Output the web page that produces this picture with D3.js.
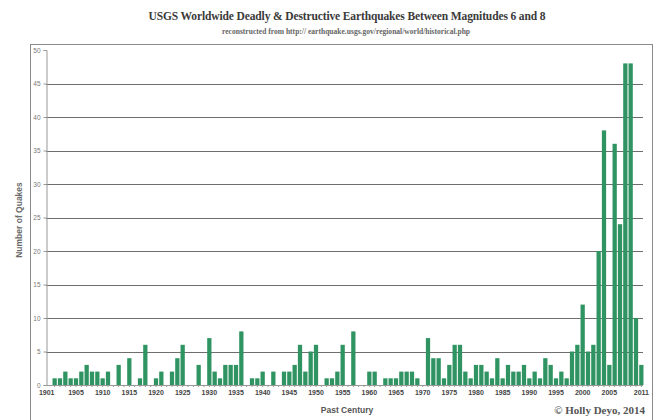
<!DOCTYPE html>
<html>
<head>
<meta charset="utf-8">
<script src="https://cdn.jsdelivr.net/npm/d3@7"></script>
<style>
  body { margin: 0; background: #fff; }
  svg { display: block; }
</style>
</head>
<body>
<svg width="659" height="420"></svg>
<script>
// years 1901..2011 and the number of deadly quakes in each
var years = d3.range(1901, 2012);
var quakes = [
  1, 1, 2, 1, 1, 2, 3, 2, 2, 1,   // 1901-1910
  2, 0, 3, 0, 4, 0, 1, 6, 0, 1,   // 1911-1920
  2, 0, 2, 4, 6, 0, 0, 3, 0, 7,   // 1921-1930
  2, 1, 3, 3, 3, 8, 0, 1, 1, 2,   // 1931-1940
  0, 2, 0, 2, 2, 3, 6, 2, 5, 6,   // 1941-1950
  0, 1, 1, 2, 6, 0, 8, 0, 0, 2,   // 1951-1960
  2, 0, 1, 1, 1, 2, 2, 2, 1, 0,   // 1961-1970
  7, 4, 4, 1, 3, 6, 6, 2, 1, 3,   // 1971-1980
  3, 2, 1, 4, 1, 3, 2, 2, 3, 1,   // 1981-1990
  2, 1, 4, 3, 1, 2, 1, 5, 6, 12,  // 1991-2000
  5, 6, 20, 38, 3, 36, 24, 48, 48, 10, // 2001-2010
  3                               // 2011
];
var yearLabels = [1901, 1905, 1910, 1915, 1920, 1925, 1930, 1935, 1940, 1945, 1950,
  1955, 1960, 1965, 1970, 1975, 1980, 1985, 1990, 1995, 2000, 2005, 2011];
var yTicks = [0, 5, 10, 15, 20, 25, 30, 35, 40, 45, 50];

var svg = d3.select("svg");

var x = d3.scaleBand().domain(years).range([52, 644]).paddingInner(0.2).paddingOuter(0.1);
var y = d3.scaleLinear().domain([0, 50]).range([385, 50]);

// frame
svg.append("rect")
  .attr("x", 30.5).attr("y", 44.5)
  .attr("width", 622).attr("height", 400)
  .attr("fill", "none")
  .attr("stroke", "#8a8a8a")
  .attr("stroke-width", 1);

// titles
svg.append("text")
  .attr("x", 347).attr("y", 20)
  .attr("text-anchor", "middle")
  .attr("font-family", "Liberation Serif, serif")
  .attr("font-weight", "bold")
  .attr("font-size", 11.5)
  .attr("textLength", 397)
  .attr("fill", "#3a3a3a")
  .text("USGS Worldwide Deadly & Destructive Earthquakes Between Magnitudes 6 and 8");

svg.append("text")
  .attr("x", 346).attr("y", 34)
  .attr("text-anchor", "middle")
  .attr("font-family", "Liberation Serif, serif")
  .attr("font-weight", "bold")
  .attr("font-size", 7.5)
  .attr("textLength", 248)
  .attr("fill", "#666")
  .text("reconstructed from http:// earthquake.usgs.gov/regional/world/historical.php");

// gridlines
svg.append("g")
  .selectAll("line")
  .data(yTicks.filter(function(d) { return d > 0 && d < 50; }))
  .enter().append("line")
  .attr("x1", 46).attr("x2", 643)
  .attr("y1", function(d) { return Math.round(y(d)) + 0.5; })
  .attr("y2", function(d) { return Math.round(y(d)) + 0.5; })
  .attr("stroke", "#6e6e6e")
  .attr("stroke-width", 1);

// y axis
var yAxis = svg.append("g")
  .attr("transform", "translate(46.5,0)")
  .call(d3.axisLeft(y).tickValues(yTicks).tickSize(3).tickPadding(3));
yAxis.select(".domain").attr("stroke", "#999");
yAxis.selectAll(".tick line").attr("stroke", "#999");
yAxis.selectAll("text")
  .attr("font-family", "Liberation Sans, Arial, sans-serif")
  .attr("font-size", 6.5)
  .attr("fill", "#777");

// bars
svg.append("g")
  .selectAll(".bar")
  .data(years)
  .enter().append("rect")
  .attr("class", "bar")
  .attr("x", function(d) { return x(d); })
  .attr("y", function(d, i) { return y(quakes[i]); })
  .attr("width", x.bandwidth())
  .attr("height", function(d, i) { return y(0) - y(quakes[i]); })
  .attr("fill", "#2f9462");

// x axis
var xAxis = svg.append("g")
  .attr("transform", "translate(0," + y(0) + ")")
  .call(d3.axisBottom(x)
    .tickSize(2)
    .tickPadding(3)
    .tickFormat(function(d) { return yearLabels.indexOf(d) >= 0 ? d : ""; }));
xAxis.select(".domain").attr("stroke", "#999").attr("d", "M46,0.5H643");
xAxis.selectAll(".tick line").attr("stroke", "#999");
xAxis.selectAll("text")
  .attr("font-family", "Liberation Sans, Arial, sans-serif")
  .attr("font-weight", "bold")
  .attr("font-size", 7)
  .attr("fill", "#444")
  .attr("dx", function(d) { return d === 1901 ? -8 : 0; });

// axis titles
svg.append("text")
  .attr("transform", "translate(22,220) rotate(-90)")
  .attr("text-anchor", "middle")
  .attr("font-family", "Liberation Sans, Arial, sans-serif")
  .attr("font-weight", "bold")
  .attr("font-size", 8.5)
  .attr("fill", "#6a6a6a")
  .text("Number of Quakes");

svg.append("text")
  .attr("x", 347).attr("y", 413)
  .attr("text-anchor", "middle")
  .attr("font-family", "Liberation Sans, Arial, sans-serif")
  .attr("font-weight", "bold")
  .attr("font-size", 8.5)
  .attr("fill", "#555")
  .text("Past Century");

svg.append("text")
  .attr("x", 645).attr("y", 414)
  .attr("text-anchor", "end")
  .attr("font-family", "Liberation Serif, serif")
  .attr("font-weight", "bold")
  .attr("font-size", 11)
  .attr("fill", "#555")
  .text("\u00a9 Holly Deyo, 2014");
</script>
</body>
</html>
